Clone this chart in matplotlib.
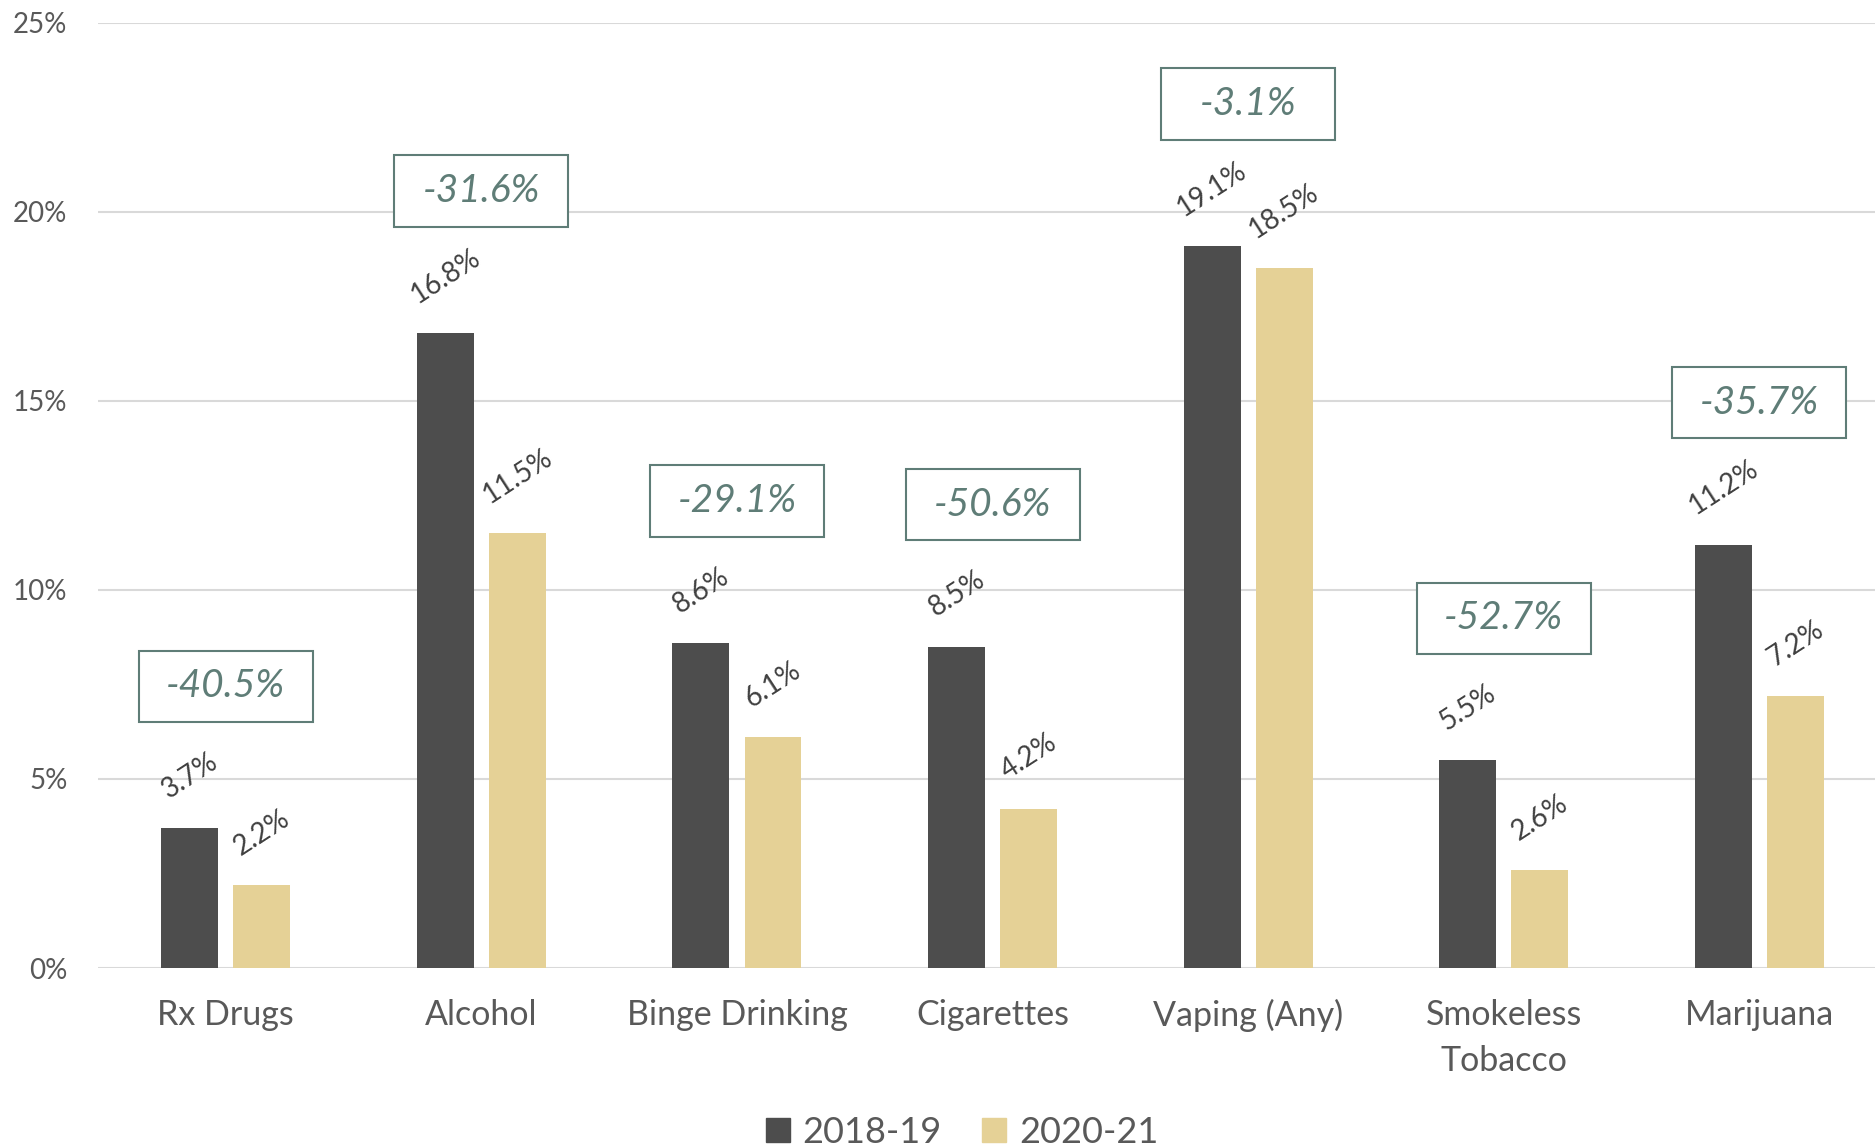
import matplotlib
matplotlib.use("Agg")
import matplotlib.pyplot as plt
from matplotlib.patches import Rectangle, Patch
import numpy as np

plt.rcParams['font.family'] = ['Lato', 'DejaVu Sans']

categories = ['Rx Drugs', 'Alcohol', 'Binge Drinking', 'Cigarettes',
              'Vaping (Any)', 'Smokeless\nTobacco', 'Marijuana']
use_2018_19 = [3.7, 16.8, 8.6, 8.5, 19.1, 5.5, 11.2]
use_2020_21 = [2.2, 11.5, 6.1, 4.2, 18.5, 2.6, 7.2]
pct_change = [-40.5, -31.6, -29.1, -50.6, -3.1, -52.7, -35.7]
series_names = ['2018-19', '2020-21']

DARK = '#4d4d4d'
GOLD = '#e5d196'
BOX = '#5f7d77'
GRID = '#d9d9d9'

fig = plt.figure(figsize=(18.75, 11.46), dpi=100)
ax = fig.add_axes([0.0523, 0.1553, 0.9541, 0.8249])

x = np.arange(len(categories))
w = 0.223
off = 0.141
ax.bar(x - off, use_2018_19, w, color=DARK, zorder=3)
ax.bar(x + off, use_2020_21, w, color=GOLD, zorder=3)

# rotated value labels above each bar
for xs, vals in ((x - off, use_2018_19), (x + off, use_2020_21)):
    for xi, v in zip(xs, vals):
        ax.annotate(f'{v:.1f}%', (xi, v), xytext=(0, 18), textcoords='offset points',
                    ha='center', va='bottom', rotation=33, fontsize=20, color='#404040')

# boxed percent change over each pair
bw, bh = 0.681, 1.88
for xi, v, c in zip(x, use_2018_19, pct_change):
    yc = v + 3.75
    ax.add_patch(Rectangle((xi - bw / 2, yc - bh / 2), bw, bh, fill=True,
                           facecolor='white', edgecolor=BOX, lw=1.5, zorder=4))
    ax.text(xi, yc, f'{c:.1f}%', ha='center', va='center', fontsize=28,
            style='italic', color=BOX, zorder=5)

ax.set_xlim(-0.5, len(categories) - 0.5)
ax.set_ylim(0, 25)
ax.set_yticks(np.arange(0, 26, 5))
ax.set_yticklabels([f'{t}%' for t in range(0, 26, 5)])
ax.set_xticks(x)
ax.set_xticklabels(categories)
for t in ax.get_xticklabels():
    t.set_linespacing(1.55)

ax.tick_params(axis='y', length=0, pad=22, labelsize=20, labelcolor='#595959')
ax.tick_params(axis='x', length=0, pad=22, labelsize=24.5, labelcolor='#595959')
ax.grid(axis='y', color=GRID, lw=1.5, zorder=0)
for s in ax.spines.values():
    s.set_visible(False)

handles = [Patch(color=DARK, label=series_names[0]), Patch(color=GOLD, label=series_names[1])]
fig.legend(handles=handles, loc='center', bbox_to_anchor=(0.513, 0.012), ncol=2,
           frameon=False, fontsize=26, handlelength=0.67, handleheight=0.67,
           handletextpad=0.36, columnspacing=1.1, labelcolor='#595959')

fig.savefig('out.png', dpi=100)
